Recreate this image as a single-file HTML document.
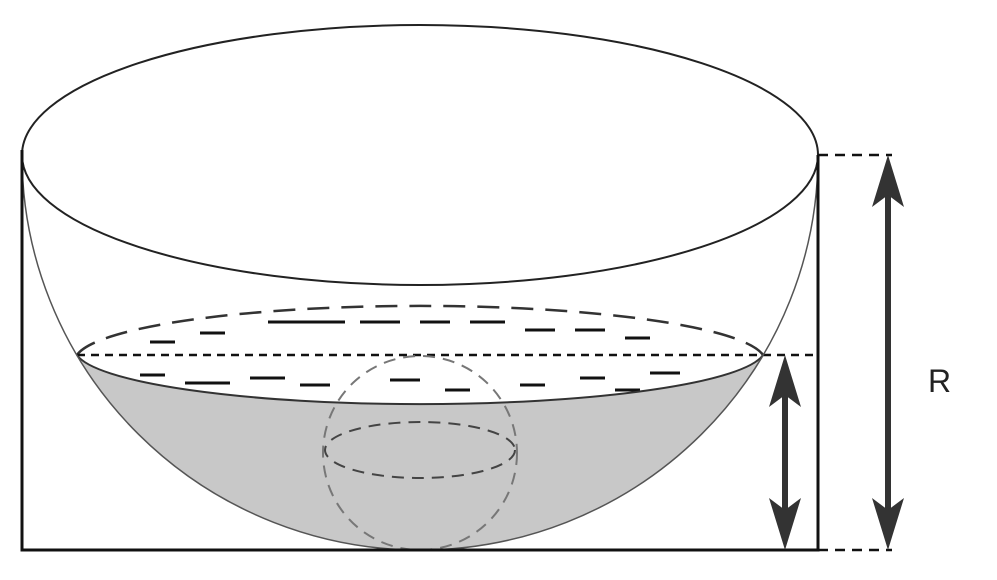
<!DOCTYPE html>
<html><head><meta charset="utf-8"><style>
html,body{margin:0;padding:0;background:#fff;}
svg{display:block;}
</style></head><body>
<svg width="997" height="580" viewBox="0 0 997 580" xmlns="http://www.w3.org/2000/svg">
<path d="M77,355 A345,55 0 0 0 763,355 A398,395 0 0 1 77,355 Z" fill="#c8c8c8" stroke="none"/>
<g stroke="#111" stroke-width="3">
<line x1="150" y1="342" x2="175" y2="342"/><line x1="200" y1="333" x2="225" y2="333"/><line x1="268" y1="322" x2="345" y2="322"/><line x1="360" y1="322" x2="400" y2="322"/><line x1="420" y1="322" x2="450" y2="322"/><line x1="470" y1="322" x2="505" y2="322"/><line x1="525" y1="330" x2="555" y2="330"/><line x1="575" y1="330" x2="605" y2="330"/><line x1="625" y1="338" x2="650" y2="338"/>
<line x1="140" y1="375" x2="165" y2="375"/><line x1="185" y1="383" x2="230" y2="383"/><line x1="250" y1="378" x2="285" y2="378"/><line x1="300" y1="385" x2="330" y2="385"/><line x1="390" y1="380" x2="420" y2="380"/><line x1="445" y1="390" x2="470" y2="390"/><line x1="520" y1="385" x2="545" y2="385"/><line x1="580" y1="378" x2="605" y2="378"/><line x1="615" y1="390" x2="640" y2="390"/><line x1="650" y1="373" x2="680" y2="373"/>
</g>
<path d="M77,355 A345,55 0 0 1 763,355" fill="none" stroke="#333" stroke-width="2.5" stroke-dasharray="22,12"/>
<path d="M77,355 A345,55 0 0 0 763,355" fill="none" stroke="#333" stroke-width="2"/>
<line x1="77" y1="355" x2="818" y2="355" stroke="#111" stroke-width="2.5" stroke-dasharray="8,6"/>
<circle cx="420" cy="453" r="97" fill="none" stroke="#777" stroke-width="2" stroke-dasharray="12,8"/>
<ellipse cx="420" cy="450" rx="95" ry="28" fill="none" stroke="#444" stroke-width="2" stroke-dasharray="12,8"/>
<ellipse cx="420" cy="155" rx="398" ry="130" fill="none" stroke="#222" stroke-width="2"/>
<path d="M22,155 A398,395 0 0 0 818,155" fill="none" stroke="#555" stroke-width="1.5"/>
<polyline points="22,150 22,550 818,550 818,155" fill="none" stroke="#111" stroke-width="3"/>
<line x1="818" y1="155" x2="892" y2="155" stroke="#111" stroke-width="2.5" stroke-dasharray="10,7"/>
<line x1="818" y1="550" x2="892" y2="550" stroke="#111" stroke-width="2.5" stroke-dasharray="10,7"/>
<g fill="#333">
<line x1="888" y1="190" x2="888" y2="515" stroke="#333" stroke-width="6"/>
<polygon points="888,155 872,207 888,195 904,207"/>
<polygon points="888,550 872,498 888,510 904,498"/>
</g>
<g fill="#333">
<line x1="785" y1="390" x2="785" y2="515" stroke="#333" stroke-width="6"/>
<polygon points="785,355 769,407 785,395 801,407"/>
<polygon points="785,550 769,498 785,510 801,498"/>
</g>
<text x="928" y="392" font-family="Liberation Sans, sans-serif" font-size="32" fill="#222">R</text>
</svg>
</body></html>
